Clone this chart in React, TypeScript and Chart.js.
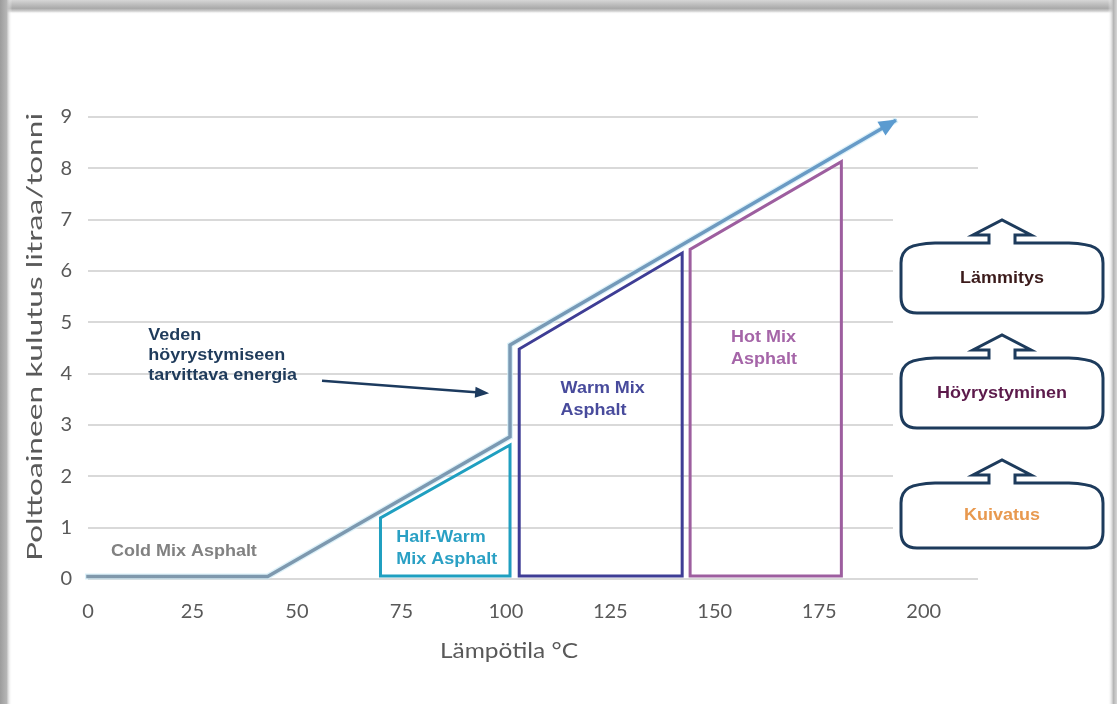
import React, { useEffect, useRef } from "react";
import { Chart, registerables } from "chart.js";

Chart.register(...registerables);

// Axis ticks
const xTicks = [0, 25, 50, 75, 100, 125, 150, 175, 200];
const yTicks = [0, 1, 2, 3, 4, 5, 6, 7, 8, 9];

// Fuel consumption (litres per tonne) against mix temperature (°C)
const energyTemp = [0, 43, 101, 101, 193];
const energyFuel = [0.05, 0.05, 2.77, 4.56, 8.92];

// Production windows of the asphalt types (closed outlines)
const halfWarmTemp = [70, 70, 101, 101, 70];
const halfWarmFuel = [0.06, 1.19, 2.61, 0.06, 0.06];

const warmTemp = [103.2, 103.2, 142.2, 142.2, 103.2];
const warmFuel = [0.06, 4.48, 6.35, 0.06, 0.06];

const hotTemp = [144.1, 144.1, 180.3, 180.3, 144.1];
const hotFuel = [0.06, 6.42, 8.13, 0.06, 0.06];

// Heating stages shown on the right, top to bottom
const stageLabels = ["Lämmitys", "Höyrystyminen", "Kuivatus"];
const stageColors = ["#3b1b1b", "#5c1a4b", "#e8994f"];

// Text labels placed in data coordinates (°C, l/t)
const regionNotes = [
  { lines: ["Cold Mix Asphalt"], x: 5.5, y: [0.53], color: "#818181" },
  { lines: ["Half-Warm", "Mix Asphalt"], x: 73.8, y: [0.8, 0.39], color: "#2aa0c4" },
  { lines: ["Warm Mix", "Asphalt"], x: 113.1, y: [3.72, 3.29], color: "#484b9c" },
  { lines: ["Hot Mix", "Asphalt"], x: 153.9, y: [4.7, 4.27], color: "#a565a8" },
  {
    lines: ["Veden", "höyrystymiseen", "tarvittava energia"],
    x: 14.4,
    y: [4.75, 4.36, 3.97],
    color: "#1f3b5b",
  },
];
// Pointer from the water-evaporation note to the step in the curve
const noteArrowFrom = { x: 56.0, y: 3.86 };
const noteArrowTo = { x: 96.0, y: 3.62 };

const toPoints = (xs: number[], ys: number[]) => xs.map((x, i) => ({ x, y: ys[i] }));

const BOLD = "bold 16.5px 'Liberation Sans', Arial, sans-serif";
const STRETCH = 1.09;

function drawText(
  ctx: CanvasRenderingContext2D,
  text: string,
  x: number,
  y: number,
  font: string,
  color: string,
  sx: number,
  align: "left" | "center"
) {
  ctx.save();
  ctx.font = font;
  ctx.fillStyle = color;
  ctx.textBaseline = "middle";
  ctx.textAlign = "left";
  const w = ctx.measureText(text).width * sx;
  const x0 = align === "center" ? x - w / 2 : x;
  ctx.translate(x0, y);
  ctx.scale(sx, 1);
  ctx.fillText(text, 0, 0);
  ctx.restore();
}

function calloutPath(ctx: CanvasRenderingContext2D, L: number, R: number, T: number, B: number) {
  const cx = (L + R) / 2;
  const neckY = T - 8;
  const apexY = T - 23;
  const headHalf = 29;
  const shaftHalf = 13;
  const rb = 16;
  ctx.beginPath();
  ctx.moveTo(L, T + 20);
  ctx.bezierCurveTo(L, T + 5, L + 10, T + 1, L + 34, T);
  ctx.lineTo(cx - shaftHalf, T);
  ctx.lineTo(cx - shaftHalf, neckY);
  ctx.lineTo(cx - headHalf, neckY);
  ctx.lineTo(cx, apexY);
  ctx.lineTo(cx + headHalf, neckY);
  ctx.lineTo(cx + shaftHalf, neckY);
  ctx.lineTo(cx + shaftHalf, T);
  ctx.lineTo(R - 34, T);
  ctx.bezierCurveTo(R - 10, T + 1, R, T + 5, R, T + 20);
  ctx.lineTo(R, B - rb);
  ctx.quadraticCurveTo(R, B, R - rb, B);
  ctx.lineTo(L + rb, B);
  ctx.quadraticCurveTo(L, B, L, B - rb);
  ctx.closePath();
}

const decorations = {
  id: "decorations",
  afterDatasetsDraw(chart: any) {
    const { ctx } = chart;
    const xs = chart.scales.x;
    const ys = chart.scales.y;

    // Arrow head at the end of the energy curve
    const meta = chart.getDatasetMeta(1);
    const pts = meta.data;
    const tip = pts[pts.length - 1];
    const prev = pts[pts.length - 2];
    const ang = Math.atan2(tip.y - prev.y, tip.x - prev.x);
    ctx.save();
    ctx.translate(tip.x, tip.y);
    ctx.rotate(ang);
    ctx.fillStyle = "#5b9bd0";
    ctx.beginPath();
    ctx.moveTo(3, 0);
    ctx.lineTo(-15, -8);
    ctx.lineTo(-15, 8);
    ctx.closePath();
    ctx.fill();
    ctx.restore();

    // Region labels
    regionNotes.forEach((n) => {
      const px = xs.getPixelForValue(n.x);
      n.lines.forEach((line, i) => {
        drawText(ctx, line, px, ys.getPixelForValue(n.y[i]), BOLD, n.color, STRETCH, "left");
      });
    });

    // Pointer arrow of the note
    const ax0 = xs.getPixelForValue(noteArrowFrom.x);
    const ay0 = ys.getPixelForValue(noteArrowFrom.y);
    const ax1 = xs.getPixelForValue(noteArrowTo.x);
    const ay1 = ys.getPixelForValue(noteArrowTo.y);
    const a2 = Math.atan2(ay1 - ay0, ax1 - ax0);
    ctx.save();
    ctx.strokeStyle = "#1c3a5e";
    ctx.fillStyle = "#1c3a5e";
    ctx.lineWidth = 2.5;
    ctx.beginPath();
    ctx.moveTo(ax0, ay0);
    ctx.lineTo(ax1 - 10 * Math.cos(a2), ay1 - 10 * Math.sin(a2));
    ctx.stroke();
    ctx.translate(ax1, ay1);
    ctx.rotate(a2);
    ctx.beginPath();
    ctx.moveTo(0, 0);
    ctx.lineTo(-14, -5.5);
    ctx.lineTo(-14, 5.5);
    ctx.closePath();
    ctx.fill();
    ctx.restore();

    // Stage callouts on the right
    ctx.save();
    ctx.fillStyle = "#ffffff";
    ctx.fillRect(893, 198, 210, 364);
    const boxes = [
      { T: 243, B: 313 },
      { T: 358, B: 428 },
      { T: 483, B: 548 },
    ];
    boxes.forEach((b, i) => {
      calloutPath(ctx, 901, 1103, b.T, b.B);
      ctx.fillStyle = "#ffffff";
      ctx.fill();
      ctx.lineWidth = 3;
      ctx.lineJoin = "miter";
      ctx.strokeStyle = "#1d3b5c";
      ctx.stroke();
      drawText(ctx, stageLabels[i], 1002, (b.T + b.B) / 2, BOLD, stageColors[i], STRETCH, "center");
    });
    ctx.restore();

    // Axis titles
    ctx.save();
    ctx.font = "21px Lato, 'Open Sans', sans-serif";
    ctx.fillStyle = "#595959";
    ctx.textAlign = "center";
    ctx.textBaseline = "middle";
    const yTitle = "Polttoaineen kulutus litraa/tonni";
    const yw = ctx.measureText(yTitle).width;
    ctx.translate(35, 337);
    ctx.rotate(-Math.PI / 2);
    ctx.scale(448 / yw, 1);
    ctx.fillText(yTitle, 0, 0);
    ctx.restore();

    ctx.save();
    ctx.font = "22px Lato, 'Open Sans', sans-serif";
    ctx.fillStyle = "#595959";
    ctx.textAlign = "center";
    ctx.textBaseline = "middle";
    const xTitle = "Lämpötila °C";
    const xw = ctx.measureText(xTitle).width;
    ctx.translate(509, 651);
    ctx.scale(138 / xw, 1);
    ctx.fillText(xTitle, 0, 0);
    ctx.restore();
  },
  afterDraw(chart: any) {
    // Soft grey frame around the figure
    const { ctx, width, height } = chart;
    ctx.save();
    let g = ctx.createLinearGradient(0, 0, 0, 14);
    g.addColorStop(0, "#d6d6d6");
    g.addColorStop(0.6, "#a9a9a9");
    g.addColorStop(0.8, "#d0d0d0");
    g.addColorStop(1, "rgba(255,255,255,0)");
    ctx.fillStyle = g;
    ctx.fillRect(0, 0, width, 14);
    g = ctx.createLinearGradient(0, 0, 12, 0);
    g.addColorStop(0, "#9c9c9c");
    g.addColorStop(0.55, "#b5b5b5");
    g.addColorStop(1, "rgba(255,255,255,0)");
    ctx.fillStyle = g;
    ctx.fillRect(0, 0, 12, height);
    g = ctx.createLinearGradient(width - 9, 0, width, 0);
    g.addColorStop(0, "rgba(255,255,255,0)");
    g.addColorStop(0.6, "#b4b4b4");
    g.addColorStop(1, "#d6d6d6");
    ctx.fillStyle = g;
    ctx.fillRect(width - 9, 0, 9, height);
    ctx.restore();
  },
};

export default function App() {
  const ref = useRef<HTMLCanvasElement | null>(null);

  useEffect(() => {
    if (!ref.current) return;
    const lineGradient = (c: any) => {
      const area = c.chart.chartArea;
      if (!area) return "#759fc0";
      const g = c.chart.ctx.createLinearGradient(area.left, 0, area.right, 0);
      g.addColorStop(0, "#8098ab");
      g.addColorStop(0.45, "#7b99b2");
      g.addColorStop(1, "#5f9bcf");
      return g;
    };
    const chart = new Chart(ref.current, {
      type: "line",
      data: {
        datasets: [
          {
            label: "halo",
            data: toPoints(energyTemp, energyFuel),
            borderColor: "rgba(205,235,246,0.7)",
            borderWidth: 6,
            pointRadius: 0,
            order: 5,
          },
          {
            label: "Polttoaineen kulutus",
            data: toPoints(energyTemp, energyFuel),
            borderColor: lineGradient,
            borderWidth: 3.5,
            pointRadius: 0,
            order: 4,
          },
          {
            label: "Half-Warm Mix Asphalt",
            data: toPoints(halfWarmTemp, halfWarmFuel),
            borderColor: "#1f9fc0",
            borderWidth: 3,
            pointRadius: 0,
            order: 3,
          },
          {
            label: "Warm Mix Asphalt",
            data: toPoints(warmTemp, warmFuel),
            borderColor: "#3e3d95",
            borderWidth: 3,
            pointRadius: 0,
            order: 2,
          },
          {
            label: "Hot Mix Asphalt",
            data: toPoints(hotTemp, hotFuel),
            borderColor: "#9d5e9f",
            borderWidth: 3,
            pointRadius: 0,
            order: 1,
          },
        ],
      },
      options: {
        animation: false,
        responsive: false,
        maintainAspectRatio: false,
        events: [],
        datasets: {
          line: {
            tension: 0,
            borderJoinStyle: "miter",
            borderCapStyle: "square",
            clip: false,
          } as any,
        },
        layout: { padding: { left: 14, top: 117, right: 139, bottom: 0 } },
        plugins: {
          legend: { display: false },
          tooltip: { enabled: false },
          title: { display: false },
        },
        scales: {
          x: {
            type: "linear",
            min: 0,
            max: 213,
            afterFit: (s: any) => {
              s.height = 125;
            },
            afterBuildTicks: (s: any) => {
              s.ticks = xTicks.map((v) => ({ value: v }));
            },
            grid: { display: false, drawTicks: false },
            border: { display: false },
            ticks: {
              padding: 21,
              color: "#595959",
              font: { family: "Lato, 'Open Sans', sans-serif", size: 20 },
              maxRotation: 0,
            },
          },
          y: {
            type: "linear",
            min: 0,
            max: 9,
            afterFit: (s: any) => {
              s.width = 74;
            },
            afterBuildTicks: (s: any) => {
              s.ticks = yTicks.map((v) => ({ value: v }));
            },
            grid: { color: "#d9d9d9", lineWidth: 2, drawTicks: false },
            border: { display: false },
            ticks: {
              padding: 16,
              color: "#595959",
              font: { family: "Lato, 'Open Sans', sans-serif", size: 20 },
            },
          },
        },
      },
      plugins: [decorations],
    });
    return () => chart.destroy();
  }, []);

  return (
    <div style={{ position: "absolute", left: 0, top: 0, width: 1117, height: 704, background: "#fff" }}>
      <canvas ref={ref} width={1117} height={704} style={{ display: "block" }} />
    </div>
  );
}
